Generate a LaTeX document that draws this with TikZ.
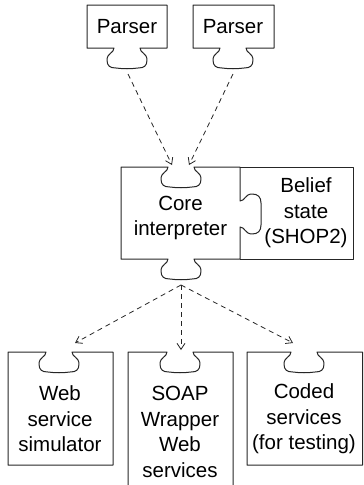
\documentclass[tikz,border=0pt]{standalone}
\usepackage{fontspec}
\setmainfont{Liberation Sans}
\usetikzlibrary{arrows.meta}
% horizontal-edge knob: centre x, edge y, s = +1 bulges down, d = +1 traversed left to right
\newcommand\hknob[4]{ -- ({#1-13*#4},{#2}) .. controls ({#1-13*#4},{#2+5*#3}) and ({#1-20*#4},{#2+5*#3}) .. ({#1-20*#4},{#2+12*#3}) .. controls ({#1-20*#4},{#2+18*#3}) and ({#1-17*#4},{#2+20*#3}) .. ({#1-11*#4},{#2+20*#3}) .. controls ({#1-4*#4},{#2+21*#3}) and ({#1+4*#4},{#2+21*#3}) .. ({#1+11*#4},{#2+20*#3}) .. controls ({#1+17*#4},{#2+20*#3}) and ({#1+20*#4},{#2+18*#3}) .. ({#1+20*#4},{#2+12*#3}) .. controls ({#1+20*#4},{#2+5*#3}) and ({#1+13*#4},{#2+5*#3}) .. ({#1+13*#4},{#2}) }
% vertical-edge knob: edge x, centre y, s = +1 bulges right, d = +1 traversed top to bottom
\newcommand\vknob[4]{ -- ({#1},{#2-13*#4}) .. controls ({#1+5*#3},{#2-13*#4}) and ({#1+5*#3},{#2-20*#4}) .. ({#1+12*#3},{#2-20*#4}) .. controls ({#1+18*#3},{#2-20*#4}) and ({#1+21*#3},{#2-17*#4}) .. ({#1+21*#3},{#2-11*#4}) -- ({#1+21*#3},{#2+11*#4}) .. controls ({#1+21*#3},{#2+17*#4}) and ({#1+18*#3},{#2+20*#4}) .. ({#1+12*#3},{#2+20*#4}) .. controls ({#1+5*#3},{#2+20*#4}) and ({#1+5*#3},{#2+13*#4}) .. ({#1},{#2+13*#4}) }
\begin{document}
\begin{tikzpicture}[x=1pt,y=-1pt,
  outline/.style={draw=black!85, line width=1pt, line join=round},
  lbl/.style={align=center, inner sep=0pt, font=\fontsize{20.5}{25.5}\selectfont},
  flow/.style={draw=black!85, line width=0.8pt, dash pattern=on 5pt off 4pt, -{Straight Barb[length=6pt,width=8pt]}}]
\useasboundingbox (0,0) rectangle (364,485);
\clip (0,0) rectangle (364,485);
% Parsers
\draw[outline] (87,5) -- (167,5) -- (167,48) \hknob{127}{48}{1}{-1} -- (87,48) -- cycle;
\draw[outline] (193,5) -- (274,5) -- (274,48) \hknob{233}{48}{1}{-1} -- (193,48) -- cycle;
\node[lbl] (parserA) at (127,27) {Parser};
\node[lbl] (parserB) at (233,27) {Parser};
% Core interpreter and belief state
\draw[outline] (121,167) \hknob{181}{167}{1}{1} -- (240,167) \vknob{240}{214}{1}{1} -- (240,259) \hknob{181}{259}{1}{-1} -- (121,259) -- cycle;
\draw[outline] (240,167) -- (353,167) -- (353,259) -- (240,259);
\node[lbl] (core) at (180.5,218) {Core\\interpreter};
\node[lbl] (belief) at (306,213) {Belief\\state\\(SHOP2)};
% Bottom boxes
\draw[outline] (8,352) \hknob{59}{352}{1}{1} -- (113,352) -- (113,465) -- (8,465) -- cycle;
\draw[outline] (128,352) \hknob{180}{352}{1}{1} -- (233,352) -- (233,495) -- (128,495) -- cycle;
\draw[outline] (247,352) \hknob{304}{352}{1}{1} -- (362.5,352) -- (362.5,465) -- (247,465) -- cycle;
\node[lbl] (websim) at (60,419) {Web\\service\\simulator};
\node[lbl] (soap) at (180,432) {SOAP\\Wrapper\\Web\\services};
\node[lbl] (coded) at (304,419) {Coded\\services\\(for testing)};
% connector end points
\coordinate (tabA) at (128,74);
\coordinate (tabB) at (233,74);
\coordinate (holeL) at (172,165);
\coordinate (holeR) at (189,165);
\coordinate (coreTab) at (181,285);
\coordinate (inWeb) at (75,343);
\coordinate (inSoap) at (181,350);
\coordinate (inCoded) at (293,343);
\draw[flow] (tabA) -- (holeL);
\draw[flow] (tabB) -- (holeR);
\draw[flow] (coreTab) -- (inWeb);
\draw[flow] (coreTab) -- (inSoap);
\draw[flow] (coreTab) -- (inCoded);
\end{tikzpicture}
\end{document}
